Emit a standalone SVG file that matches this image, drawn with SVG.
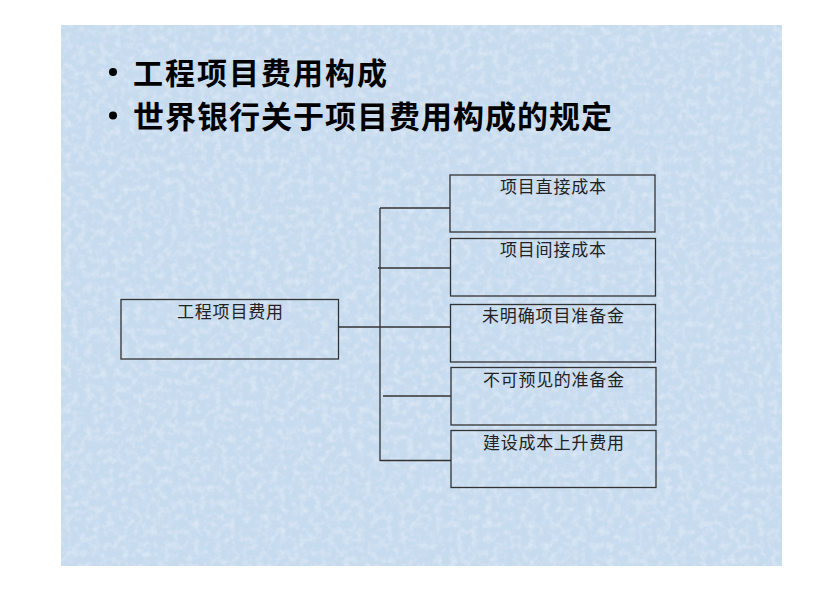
<svg xmlns="http://www.w3.org/2000/svg" width="840" height="592" viewBox="0 0 840 592">
  <defs>
    <filter id="tex" x="0" y="0" width="100%" height="100%">
      <feTurbulence type="fractalNoise" baseFrequency="0.14" numOctaves="3" seed="7" result="n"/>
      <feColorMatrix in="n" type="matrix" values="0 0 0 0 1  0 0 0 0 1  0 0 0 0 1  0 0 0 1.4 -0.6" result="w"/>
      <feComposite in="w" in2="SourceGraphic" operator="in"/>
    </filter>
    <style>
      .box { fill: none; stroke: #333; stroke-width: 1.3; }
      .conn line { stroke: #333; stroke-width: 1.3; }
      .lbl { font-family: "Noto Sans CJK SC", "Liberation Serif", serif; font-size: 17px; fill: #222; text-anchor: middle; }
      .title { font-family: "Noto Sans CJK SC", "Liberation Sans", sans-serif; font-weight: 700; fill: #000; }
    </style>
  </defs>
  <rect x="0" y="0" width="840" height="592" fill="#ffffff"/>
  <rect x="61" y="25" width="721" height="541" fill="#c7dbef"/>
  <rect x="61" y="25" width="721" height="541" fill="#c7dbef" filter="url(#tex)" opacity="0.55"/>

  <g id="title">
    <circle cx="113" cy="72" r="4" fill="#000"/>
    <text class="title" x="133" y="84" font-size="30" textLength="254" lengthAdjust="spacing">工程项目费用构成</text>
    <circle cx="113" cy="115.5" r="4" fill="#000"/>
    <text class="title" x="133" y="127.5" font-size="31" textLength="479" lengthAdjust="spacing">世界银行关于项目费用构成的规定</text>
  </g>

  <g id="connectors" class="conn">
    <line x1="380" y1="208" x2="380" y2="461"/>
    <line x1="380" y1="208" x2="450" y2="208"/>
    <line x1="378" y1="268" x2="450" y2="268"/>
    <line x1="338.5" y1="327" x2="450.5" y2="327"/>
    <line x1="383" y1="396" x2="451" y2="396"/>
    <line x1="380" y1="460.5" x2="451" y2="460.5"/>
  </g>

  <g id="root">
    <rect class="box" x="121" y="299.5" width="217.5" height="59.5"/>
    <text class="lbl" x="230" y="318" textLength="106" lengthAdjust="spacing">工程项目费用</text>
  </g>
  <g id="direct">
    <rect class="box" x="450" y="175" width="205" height="57"/>
    <text class="lbl" x="553" y="193" textLength="106" lengthAdjust="spacing">项目直接成本</text>
  </g>
  <g id="indirect">
    <rect class="box" x="450.5" y="238.5" width="205" height="57.5"/>
    <text class="lbl" x="553" y="256" textLength="106" lengthAdjust="spacing">项目间接成本</text>
  </g>
  <g id="unspecified">
    <rect class="box" x="450.5" y="304.5" width="205" height="57.5"/>
    <text class="lbl" x="553" y="322" textLength="142" lengthAdjust="spacing">未明确项目准备金</text>
  </g>
  <g id="contingency">
    <rect class="box" x="451" y="367.5" width="205" height="57.5"/>
    <text class="lbl" x="553.5" y="386" textLength="141" lengthAdjust="spacing">不可预见的准备金</text>
  </g>
  <g id="escalation">
    <rect class="box" x="451" y="430.5" width="205" height="57"/>
    <text class="lbl" x="553.5" y="449" textLength="141" lengthAdjust="spacing">建设成本上升费用</text>
  </g>
</svg>
